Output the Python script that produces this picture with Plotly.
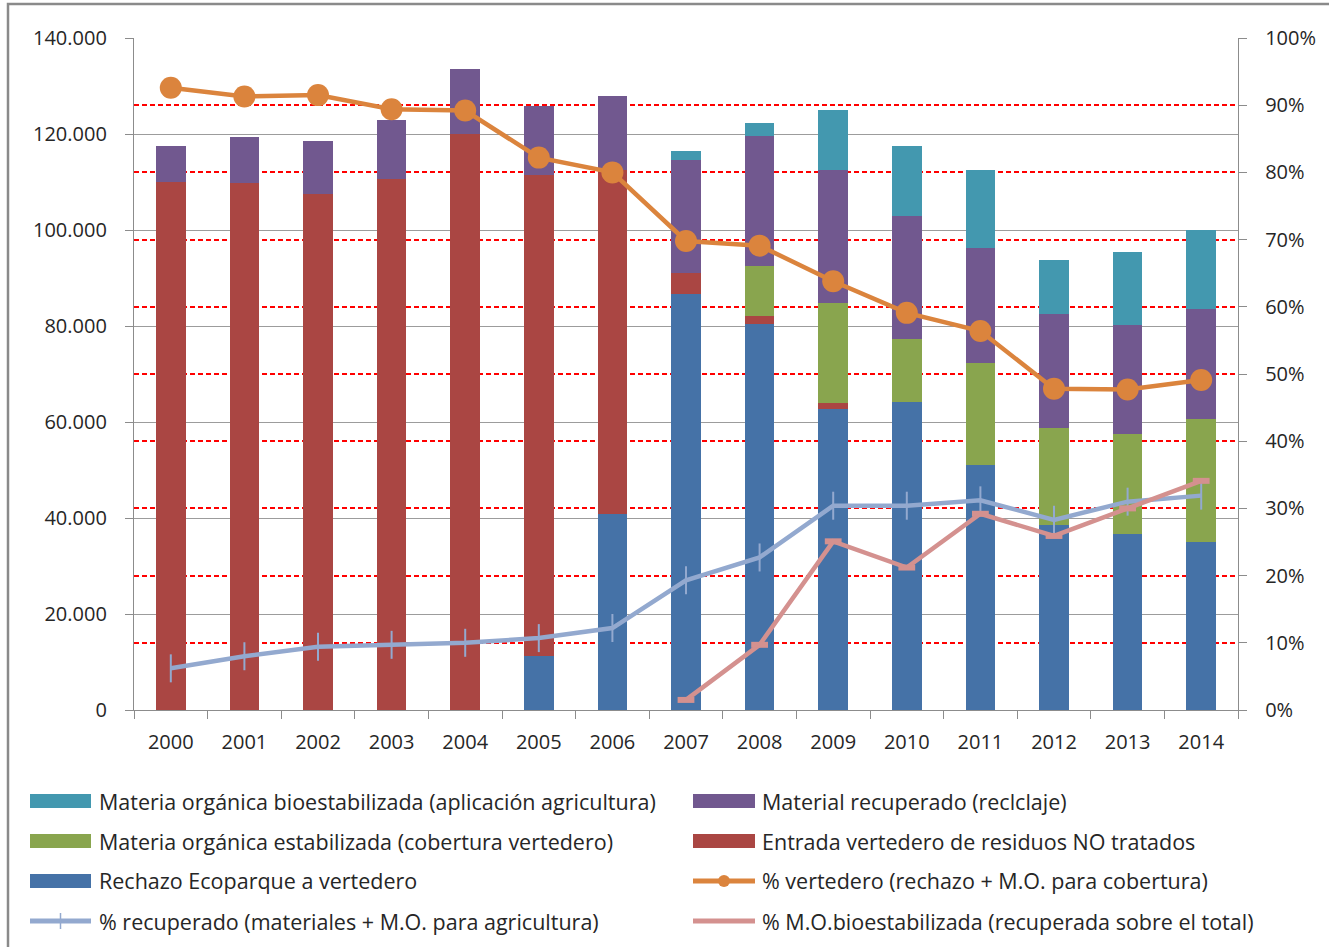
import plotly.graph_objects as go

years = ["2000", "2001", "2002", "2003", "2004", "2005", "2006", "2007",
         "2008", "2009", "2010", "2011", "2012", "2013", "2014"]

# Stacked bars (tonnes), bottom to top
rechazo = [0, 0, 0, 0, 0, 11300, 40800, 86700, 80400, 62700, 64200, 51000, 38500, 36600, 35100]
entrada = [110100, 109700, 107600, 110700, 120100, 100100, 71700, 4300, 1700, 1200, 0, 0, 0, 0, 0]
mo_estab = [0, 0, 0, 0, 0, 0, 0, 0, 10300, 20800, 13100, 21200, 20300, 21000, 25600]
material = [7500, 9700, 11000, 12200, 13500, 14400, 15500, 23500, 27200, 27900, 25700, 24100, 23800, 22600, 22900]
mo_bio = [0, 0, 0, 0, 0, 0, 0, 1900, 2700, 12400, 14400, 16300, 11200, 15300, 16500]

# Percent lines (fraction)
pct_vertedero = [0.926, 0.913, 0.915, 0.894, 0.892, 0.822, 0.800, 0.698, 0.691, 0.638, 0.591, 0.564, 0.478, 0.477, 0.491]
pct_recuperado = [0.062, 0.080, 0.094, 0.097, 0.100, 0.107, 0.122, 0.193, 0.227, 0.304, 0.304, 0.312, 0.283, 0.310, 0.319]
pct_mo_bio = [None, None, None, None, None, None, None, 0.015, 0.097, 0.251, 0.212, 0.292, 0.259, 0.300, 0.341]

left_ticks = [0, 20000, 40000, 60000, 80000, 100000, 120000, 140000]
right_ticks = [0, 0.1, 0.2, 0.3, 0.4, 0.5, 0.6, 0.7, 0.8, 0.9, 1.0]

names = {
    "mo_bio": "Materia orgánica bioestabilizada (aplicación agricultura)",
    "material": "Material recuperado (reclclaje)",
    "mo_estab": "Materia orgánica estabilizada (cobertura vertedero)",
    "entrada": "Entrada vertedero de residuos NO tratados",
    "rechazo": "Rechazo Ecoparque a vertedero",
    "pct_vert": "% vertedero (rechazo + M.O. para cobertura)",
    "pct_rec": "% recuperado (materiales + M.O. para agricultura)",
    "pct_mo": "% M.O.bioestabilizada (recuperada sobre el total)",
}
colors = {
    "mo_bio": "#4398AF",
    "material": "#71588F",
    "mo_estab": "#89A54E",
    "entrada": "#AA4643",
    "rechazo": "#4572A7",
    "pct_vert": "#DB843D",
    "pct_rec": "#93A9CF",
    "pct_mo": "#D4918F",
}

FONT = "Open Sans"
FS = 20
TXT = "#262626"

fig = go.Figure()
for key, vals in [("rechazo", rechazo), ("entrada", entrada), ("mo_estab", mo_estab),
                  ("material", material), ("mo_bio", mo_bio)]:
    fig.add_trace(go.Bar(x=years, y=vals, name=names[key],
                         marker=dict(color=colors[key], line=dict(width=0)),
                         showlegend=False))

fig.add_trace(go.Scatter(x=years, y=pct_vertedero, yaxis="y2", mode="lines+markers",
                         name=names["pct_vert"], showlegend=False,
                         line=dict(color=colors["pct_vert"], width=4.5),
                         marker=dict(symbol="circle", size=22, color=colors["pct_vert"])))
fig.add_trace(go.Scatter(x=years, y=pct_recuperado, yaxis="y2", mode="lines+markers",
                         name=names["pct_rec"], showlegend=False,
                         line=dict(color=colors["pct_rec"], width=4.5),
                         marker=dict(symbol="line-ns", size=20,
                                     line=dict(color=colors["pct_rec"], width=2))))
fig.add_trace(go.Scatter(x=years, y=pct_mo_bio, yaxis="y2", mode="lines+markers",
                         name=names["pct_mo"], showlegend=False,
                         line=dict(color=colors["pct_mo"], width=4.5),
                         marker=dict(symbol="line-ew", size=12,
                                     line=dict(color=colors["pct_mo"], width=6))))

W, H = 1329, 947
L, R, T, B = 134, 1238, 38, 710


def px(x):
    return (x - L) / (R - L)


def py(y):
    return (B - y) / (B - T)


shapes = []
annotations = []

# Outer chart-area frame
shapes.append(dict(type="rect", xref="paper", yref="paper",
                   x0=px(8), x1=px(1340), y0=py(960), y1=py(4),
                   line=dict(color="#8A8A8A", width=2.5), fillcolor="rgba(0,0,0,0)", layer="above"))

# Manual legend (2 columns x 4 rows)
legend_items = [
    ("mo_bio", "bar"), ("material", "bar"),
    ("mo_estab", "bar"), ("entrada", "bar"),
    ("rechazo", "bar"), ("pct_vert", "circle"),
    ("pct_rec", "tick"), ("pct_mo", "line"),
]
col_x = [(30, 91, 97), (693, 755, 760)]
row_y = [801, 841, 881, 921]
for i, (key, kind) in enumerate(legend_items):
    c = col_x[i % 2]
    yy = row_y[i // 2]
    col = colors[key]
    if kind == "bar":
        shapes.append(dict(type="rect", xref="paper", yref="paper",
                           x0=px(c[0]), x1=px(c[1]), y0=py(yy + 7), y1=py(yy - 7),
                           fillcolor=col, line=dict(width=0)))
    else:
        shapes.append(dict(type="line", xref="paper", yref="paper",
                           x0=px(c[0]), x1=px(c[1]), y0=py(yy), y1=py(yy),
                           line=dict(color=col, width=5)))
        mid = (c[0] + c[1]) / 2
        if kind == "circle":
            shapes.append(dict(type="circle", xref="paper", yref="paper",
                               x0=px(mid - 6), x1=px(mid + 6), y0=py(yy + 6), y1=py(yy - 6),
                               fillcolor=col, line=dict(width=0)))
        elif kind == "tick":
            shapes.append(dict(type="line", xref="paper", yref="paper",
                               x0=px(mid), x1=px(mid), y0=py(yy + 8), y1=py(yy - 8),
                               line=dict(color=col, width=1.5)))
    annotations.append(dict(text=names[key], xref="paper", yref="paper",
                            x=px(c[2]), y=py(yy), xanchor="left", yanchor="middle",
                            showarrow=False, font=dict(family=FONT, size=21.5, color=TXT)))

axis_common = dict(ticks="outside", ticklen=8, tickcolor="#8C8C8C", tickwidth=1.3,
                   showline=True, linecolor="#8C8C8C", linewidth=1.3, automargin=False,
                   tickfont=dict(family=FONT, size=FS, color=TXT))

fig.update_layout(
    width=W, height=H,
    margin=dict(l=L, r=W - R, t=T, b=H - B, pad=0),
    paper_bgcolor="white", plot_bgcolor="white",
    barmode="stack", bargap=0.6,
    separators=",.",
    font=dict(family=FONT, size=FS, color=TXT),
    showlegend=False,
    xaxis=dict(type="category", range=[-0.5, 14.5], tickson="boundaries",
               showgrid=False, ticklabelstandoff=14, **axis_common),
    yaxis=dict(range=[0, 140000], tickvals=left_ticks, tickformat=",d",
               showgrid=True, gridcolor="#9C9C9C", gridwidth=1.3, zeroline=False,
               ticklabelstandoff=14, **axis_common),
    yaxis2=dict(range=[0, 1], tickvals=right_ticks, tickformat=".0%", overlaying="y",
                side="right", showgrid=True, gridcolor="#FF0000", gridwidth=1.5,
                griddash="5px,3px", zeroline=False, ticklabelstandoff=14, **axis_common),
    shapes=shapes,
    annotations=annotations,
)

fig.write_html("out.html", config={"displayModeBar": False},
               post_script="document.body.style.margin='0';document.body.style.overflow='hidden';")
